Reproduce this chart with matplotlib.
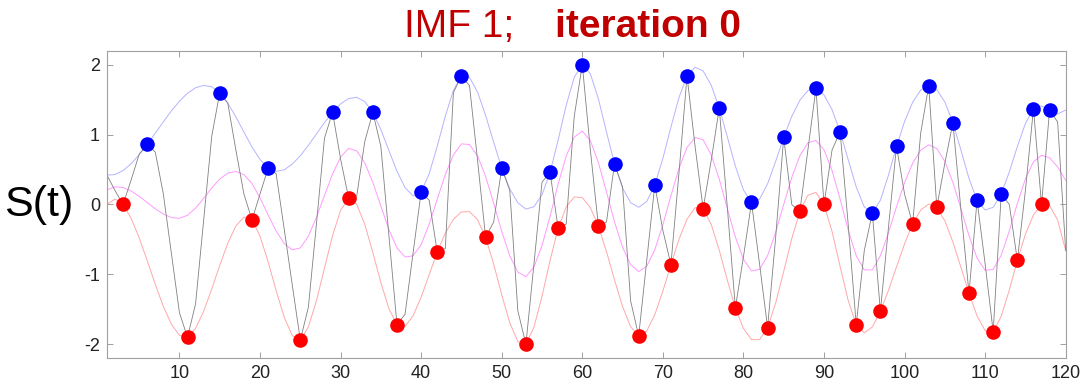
import numpy as np
import matplotlib
matplotlib.use('Agg')
from matplotlib import pyplot as plt

plt.rcParams['font.family'] = ['Liberation Sans', 'DejaVu Sans']
plt.rcParams['axes.unicode_minus'] = False

# sampled signal, t = 1..120
t = np.arange(1, 121)
signal = [
    0.42, 0.20, 0.00, 0.35, 0.72, 0.86, 0.75, 0.15, -0.70, -1.55,
    -1.90, -1.42, -0.23, 0.97, 1.60, 1.45, 0.78, 0.15, -0.22, 0.15,
    0.52, 0.44, -0.35, -1.15, -1.94, -1.47, -0.28, 0.95, 1.32, 0.65,
    0.09, 0.12, 0.90, 1.32, 0.83, -0.45, -1.72, -1.57, -0.69, 0.18,
    0.06, -0.68, -0.63, 1.60, 1.84, 1.70, 0.63, -0.47, -0.25, 0.52,
    0.20, -1.52, -2.00, -0.85, 0.32, 0.46, -0.34, -0.28, 1.26, 2.00,
    0.78, -0.31, -0.25, 0.58, 0.25, -1.38, -1.88, -0.80, 0.28, -0.37,
    -0.86, 0.45, 1.84, 0.83, -0.06, 0.63, 1.38, -0.04, -1.48, -0.75,
    0.03, -0.85, -1.76, -0.47, 0.96, 0.00, -0.10, 0.78, 1.66, 0.00,
    0.78, 1.04, -0.28, -1.72, -0.66, -0.12, -1.53, -0.33, 0.83, 0.15,
    -0.28, 1.02, 1.70, -0.04, 0.59, 1.17, -0.08, -1.27, 0.06, -0.85,
    -1.82, 0.15, 0.00, -0.80, 0.20, 1.37, 0.00, 1.35, 1.18, -0.66,
]
xticks = list(range(10, 121, 10))
yticks = [-2, -1, 0, 1, 2]
title_left = 'IMF 1;'
title_right = 'iteration 0'


def spline(xk, yk, xq):
    '''Cubic spline with not-a-knot end conditions (like MATLAB spline).'''
    xk = np.asarray(xk, float)
    yk = np.asarray(yk, float)
    n = len(xk)
    h = np.diff(xk)
    A = np.zeros((n, n))
    b = np.zeros(n)
    A[0, 0], A[0, 1], A[0, 2] = h[1], -(h[0] + h[1]), h[0]
    for i in range(1, n - 1):
        A[i, i - 1] = h[i - 1]
        A[i, i] = 2 * (h[i - 1] + h[i])
        A[i, i + 1] = h[i]
        b[i] = 6 * ((yk[i + 1] - yk[i]) / h[i] - (yk[i] - yk[i - 1]) / h[i - 1])
    A[-1, -3], A[-1, -2], A[-1, -1] = h[-1], -(h[-2] + h[-1]), h[-2]
    M = np.linalg.solve(A, b)
    idx = np.clip(np.searchsorted(xk, xq) - 1, 0, n - 2)
    x0, x1 = xk[idx], xk[idx + 1]
    hh = x1 - x0
    return (M[idx] * (x1 - xq) ** 3 / (6 * hh) + M[idx + 1] * (xq - x0) ** 3 / (6 * hh)
            + (yk[idx] / hh - M[idx] * hh / 6) * (x1 - xq)
            + (yk[idx + 1] / hh - M[idx + 1] * hh / 6) * (xq - x0))


s = np.array(signal)
inner = np.arange(1, len(s) - 1)
imax = inner[(s[inner] > s[inner - 1]) & (s[inner] > s[inner + 1])]
imin = inner[(s[inner] < s[inner - 1]) & (s[inner] < s[inner + 1])]

# envelopes through the extrema, end points added
up_x = np.concatenate([[t[0]], t[imax], [t[-1]]])
up_y = np.concatenate([[s[0]], s[imax], [s[imax[-1]]]])
lo_x = np.concatenate([[t[0]], t[imin], [t[-1]]])
lo_y = np.concatenate([[s[imin[0]]], s[imin], [s[-1]]])
upper = spline(up_x, up_y, t.astype(float))
lower = spline(lo_x, lo_y, t.astype(float))
mean = (upper + lower) / 2

fig = plt.figure(figsize=(10.88, 3.90), dpi=100)
ax = fig.add_axes([0.0983, 0.0813, 0.8812, 0.7887])

ax.plot(t, upper, color='#b4b4ff', lw=0.7)
ax.plot(t, lower, color='#ffa8a8', lw=0.7)
ax.plot(t, mean, color='#ff99ff', lw=0.7)
ax.plot(t, s, color='#808080', lw=0.6)
ax.plot(t[imax], s[imax], 'o', color='#0000ff', ms=10.5, mec='none')
ax.plot(t[imin], s[imin], 'o', color='#ff0000', ms=10.5, mec='none')

ax.set_xlim(1, 120)
ax.set_ylim(-2.2, 2.2)
ax.set_xticks(xticks)
ax.set_yticks(yticks)
ax.tick_params(direction='in', top=True, right=True, length=4, width=0.6,
               color='#909090', labelcolor='#222222', labelsize=13, pad=5)
for sp in ax.spines.values():
    sp.set_color('#a0a0a0')
    sp.set_linewidth(0.8)

fig.text(0.371, 0.905, title_left, color='#c00000', fontsize=28, va='baseline', ha='left')
fig.text(0.510, 0.905, title_right, color='#c00000', fontsize=28, fontweight='bold',
         va='baseline', ha='left')
fig.text(0.004, 0.474, 'S(t)', fontsize=31, va='center', ha='left')

fig.savefig('out.png', dpi=100)
